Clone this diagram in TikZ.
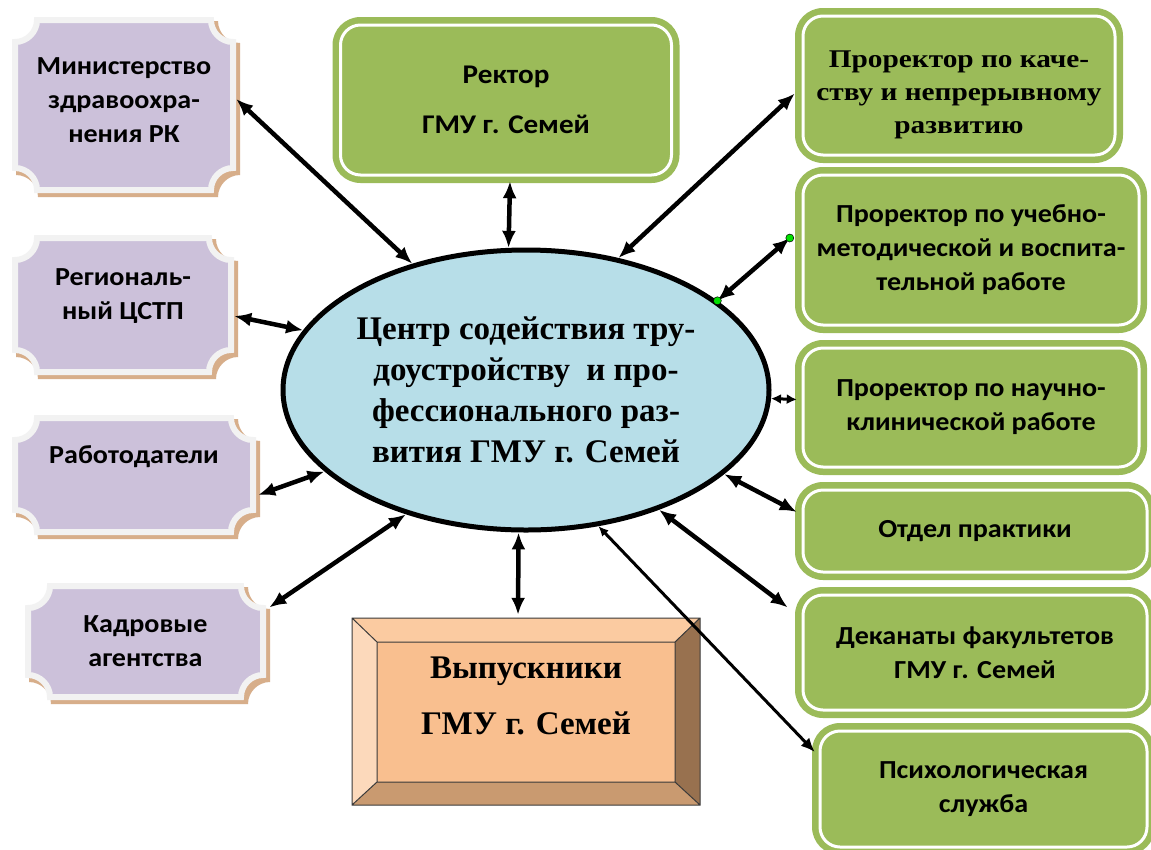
\documentclass[tikz,border=0pt]{standalone}
\usepackage{fontspec}
\setmainfont{Liberation Serif}
\newfontfamily\calfont[FakeStretch=1.08]{Carlito}
\newfontfamily\serifwide[FakeStretch=1.15]{Liberation Serif}
\usetikzlibrary{shapes.geometric,arrows.meta,calc}
\definecolor{grn}{HTML}{9BBB59}
\definecolor{plq}{HTML}{CCC1DA}
\definecolor{plqsh}{HTML}{D7AE8A}
\definecolor{plqedge}{HTML}{F2F2F2}
\definecolor{ellfill}{HTML}{B7DEE8}
\definecolor{bvface}{HTML}{F9BF8F}
\definecolor{bvtop}{HTML}{FBCBA1}
\definecolor{bvleft}{HTML}{FCD9BB}
\definecolor{bvright}{HTML}{98714F}
\definecolor{bvbottom}{HTML}{C99A70}
\definecolor{bvline}{HTML}{3A3A3A}
\definecolor{dotgreen}{HTML}{00E000}

\newcommand{\plqpath}[4]{({#1+22},{#2}) -- ({#3-22},{#2}) .. controls ({#3-22},{#2+12}) and ({#3-12},{#2+22}) .. ({#3},{#2+22}) -- ({#3},{#4-22}) .. controls ({#3-12},{#4-22}) and ({#3-22},{#4-12}) .. ({#3-22},{#4}) -- ({#1+22},{#4}) .. controls ({#1+22},{#4-12}) and ({#1+12},{#4-22}) .. ({#1},{#4-22}) -- ({#1},{#2+22}) .. controls ({#1+12},{#2+22}) and ({#1+22},{#2+12}) .. cycle}
\newcommand{\plaque}[4]{%
  \fill[plqsh] \plqpath{#1+4}{#2+4}{#3+4}{#4+4};
  \draw[plqedge, line width=6pt, fill=plq] \plqpath{#1+3}{#2+3}{#3-3}{#4-3};}
\newcommand{\bevelbox}[4]{%
  \fill[bvtop] (#1,#2) -- (#3,#2) -- ({#3-25},{#2+24}) -- ({#1+25},{#2+24}) -- cycle;
  \fill[bvright] (#3,#2) -- (#3,#4) -- ({#3-25},{#4-23}) -- ({#3-25},{#2+24}) -- cycle;
  \fill[bvbottom] (#3,#4) -- (#1,#4) -- ({#1+25},{#4-23}) -- ({#3-25},{#4-23}) -- cycle;
  \fill[bvleft] (#1,#4) -- (#1,#2) -- ({#1+25},{#2+24}) -- ({#1+25},{#4-23}) -- cycle;
  \fill[bvface] ({#1+25},{#2+24}) rectangle ({#3-25},{#4-23});
  \draw[bvline, line width=1pt] (#1,#2) rectangle (#3,#4) ({#1+25},{#2+24}) rectangle ({#3-25},{#4-23})
    (#1,#2) -- ({#1+25},{#2+24}) (#3,#2) -- ({#3-25},{#2+24})
    (#3,#4) -- ({#3-25},{#4-23}) (#1,#4) -- ({#1+25},{#4-23});}

\begin{document}
\begin{tikzpicture}[x=1pt,y=-1pt,
  sanslbl/.style={font={\calfont\bfseries\fontsize{26}{34}\selectfont}, align=center},
  seriflbl/.style={font={\serifwide\bfseries\fontsize{25.5}{33}\selectfont}, align=center},
  boxnode/.style={rectangle, inner sep=0pt},
  greenbox/.style={rectangle, inner sep=0pt, fill=grn, rounded corners=28pt,
    path picture={\draw[white, line width=3pt, rounded corners=20pt]
      ([shift={(8pt,-8pt)}]path picture bounding box.north west) rectangle
      ([shift={(-8pt,8pt)}]path picture bounding box.south east);}},
  biarrow/.style={line width=4.5pt, {Latex[length=17pt,width=14pt]}-{Latex[length=17pt,width=14pt]}},
  smallarrow/.style={line width=3pt, {Latex[length=10pt,width=10pt]}-{Latex[length=10pt,width=10pt]}},
  thinarrow/.style={line width=3pt, {Latex[length=14pt,width=12pt]}-{Latex[length=10pt,width=9pt]}},
  dot/.style={fill=dotgreen, draw=black, line width=0.5pt}
]
\clip (0,0) rectangle (1151,849);
\fill[white] (0,0) rectangle (1151,849);

% left plaques
\plaque{12}{17}{236}{193}
\node[boxnode, minimum width=224pt, minimum height=176pt,
  label={[sanslbl,yshift=5pt]center:Министерство\\здравоохра-\\нения РК}] (min) at (124,105) {};
\plaque{12}{235}{234}{375}
\node[boxnode, minimum width=222pt, minimum height=140pt,
  label={[sanslbl,yshift=9pt]center:Региональ-\\ный ЦСТП}] (reg) at (123,305) {};
\plaque{12}{415}{256}{535}
\node[boxnode, minimum width=244pt, minimum height=120pt,
  label={[sanslbl,yshift=18pt]center:Работодатели}] (emp) at (134,475) {};
\plaque{25}{583}{266}{700}
\node[boxnode, minimum width=241pt, minimum height=117pt,
  label={[sanslbl]center:Кадровые\\агентства}] (ag) at (145.5,641.5) {};

% top
\node[greenbox, minimum width=347pt, minimum height=166pt, sanslbl,
  font={\calfont\bfseries\fontsize{27}{50}\selectfont}] (rec) at (506,100) {Ректор\\ГМУ г. Семей};

% right column
\node[greenbox, minimum width=328pt, minimum height=155pt,
  label={[seriflbl,yshift=-9pt]center:Проректор по каче-\\ству и непрерывному\\развитию}] (q) at (959,85.5) {};
\node[greenbox, minimum width=352pt, minimum height=166pt, sanslbl] (ub) at (971,250)
  {Проректор по учебно-\\методической и воспита-\\тельной работе};
\node[greenbox, minimum width=352pt, minimum height=135pt, sanslbl] (nk) at (971,407.5)
  {Проректор по научно-\\клинической работе};
\node[greenbox, minimum width=360pt, minimum height=98pt, sanslbl] (ot) at (975,531)
  {Отдел практики};
\node[greenbox, minimum width=360pt, minimum height=131pt, sanslbl] (dk) at (975,652.5)
  {Деканаты факультетов\\ГМУ г. Семей};
\node[greenbox, minimum width=343pt, minimum height=132pt, sanslbl] (ps) at (983.5,789)
  {Психологическая\\служба};

% graduates
\bevelbox{352}{618}{700}{805}
\node[boxnode, minimum width=348pt, minimum height=187pt,
  label={[font={\bfseries\fontsize{33}{56}\selectfont}, align=center, yshift=16pt]center:Выпускники\\ГМУ г. Семей}] (grad) at (526,711.5) {};

% centre
\node[ellipse, draw, line width=5pt, fill=ellfill, minimum width=486pt, minimum height=280pt,
  inner sep=0pt, align=center, font={\bfseries\fontsize{33}{41}\selectfont}] (ctr) at (526,390)
  {Центр содействия тру-\\доустройству \ и про-\\фессионального раз-\\вития ГМУ г. Семей};

% connectors
\draw[biarrow] ([yshift=6pt]min.east) -- (ctr.132);
\draw[biarrow] ([yshift=-11pt]reg.east) -- (ctr.165);
\draw[biarrow] ([xshift=2pt,yshift=-20pt]emp.east) -- (ctr.202);
\draw[biarrow] ([xshift=3pt,yshift=34pt]ag.east) -- (ctr.226);
\draw[biarrow] ([xshift=4pt,yshift=2pt]rec.south) -- (ctr.97);
\draw[biarrow] ([yshift=-8pt]q.west) -- (ctr.55);
\draw[biarrow] ([xshift=-5pt,yshift=12pt]ub.west) -- (ctr.25);
\draw[smallarrow] ([xshift=2pt,yshift=8pt]nk.west) -- (ctr.358);
\draw[biarrow] ([xshift=2pt,yshift=19pt]ot.west) -- (ctr.337);
\draw[biarrow] ([xshift=-7pt,yshift=45pt]dk.west) -- (ctr.318);
\draw[thinarrow] ([xshift=3pt,yshift=37pt]ps.west) -- (ctr.298);
\draw[biarrow] ([xshift=-8pt,yshift=3pt]grad.north) -- (ctr.267);

\fill[dot] ([xshift=-5pt,yshift=12pt]ub.west) circle (4pt);
\fill[dot] (ctr.25) circle (4pt);
\end{tikzpicture}
\end{document}
